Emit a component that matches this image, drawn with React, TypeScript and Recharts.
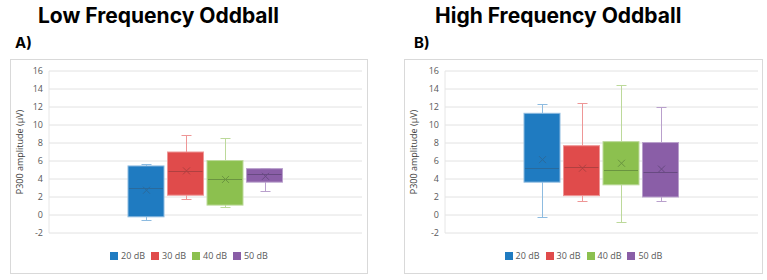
import React from 'react';
import { ComposedChart, Bar, XAxis, YAxis, CartesianGrid, Legend } from 'recharts';

// Series (one box per stimulus level)
const groups = ['20 dB', '30 dB', '40 dB', '50 dB'];
const colors = ['#1f7bc1', '#e04b4b', '#8cc04f', '#8a5ea7'];
const whiskerColors = ['#8dbbe0', '#ee9696', '#bcd99a', '#b9a0cc'];
const markColors = ['#2a6a9c', '#b04040', '#6a9440', '#684a82'];
const yTicks = [-2, 0, 2, 4, 6, 8, 10, 12, 14, 16];

// Low frequency oddball
const lowMin = [-0.55, 1.8, 0.85, 2.7];
const lowQ1 = [-0.2, 2.2, 1.1, 3.65];
const lowMedian = [2.95, 4.9, 3.95, 4.55];
const lowQ3 = [5.45, 7.0, 6.05, 5.15];
const lowMax = [5.7, 8.9, 8.6, 5.2];
const lowMean = [2.75, 4.9, 3.95, 4.3];

// High frequency oddball
const highMin = [-0.2, 1.6, -0.8, 1.55];
const highQ1 = [3.65, 2.15, 3.35, 2.0];
const highMedian = [5.2, 5.3, 5.05, 4.8];
const highQ3 = [11.3, 7.7, 8.15, 8.05];
const highMax = [12.3, 12.4, 14.4, 11.95];
const highMean = [6.15, 5.2, 5.75, 5.1];

type Stats = {
  min: number[];
  q1: number[];
  median: number[];
  q3: number[];
  max: number[];
  mean: number[];
};

const lowStats: Stats = { min: lowMin, q1: lowQ1, median: lowMedian, q3: lowQ3, max: lowMax, mean: lowMean };
const highStats: Stats = { min: highMin, q1: highQ1, median: highMedian, q3: highQ3, max: highMax, mean: highMean };

const font = '"Open Sans", sans-serif';

// one category row, each series holds its [q1, q3] range
const toRows = (s: Stats) => {
  const row: Record<string, any> = { name: 'all' };
  groups.forEach((g, i) => {
    row[g] = [s.q1[i], s.q3[i]];
  });
  return [row];
};

// draws whiskers, box, median and mean on top of the range bar rect
const makeBoxShape = (s: Stats, i: number) => (props: any) => {
  const { x, y, width, height } = props;
  const top = Math.min(y, y + height);
  const h = Math.abs(height);
  const k = h / (s.q3[i] - s.q1[i]);
  const py = (v: number) => top + (s.q3[i] - v) * k;
  const cx = Math.round(x + width / 2) + 0.5;
  const cap = 5;
  const yMax = Math.round(py(s.max[i])) + 0.5;
  const yMin = Math.round(py(s.min[i])) + 0.5;
  const yMed = Math.round(py(s.median[i])) + 0.5;
  const my = py(s.mean[i]);
  const m = 3.5;
  return (
    <g>
      <line x1={cx} x2={cx} y1={yMax} y2={top} stroke={whiskerColors[i]} strokeWidth={1} />
      <line x1={cx} x2={cx} y1={top + h} y2={yMin} stroke={whiskerColors[i]} strokeWidth={1} />
      <line x1={cx - cap} x2={cx + cap} y1={yMax} y2={yMax} stroke={whiskerColors[i]} strokeWidth={1} />
      <line x1={cx - cap} x2={cx + cap} y1={yMin} y2={yMin} stroke={whiskerColors[i]} strokeWidth={1} />
      <rect x={x} y={top} width={width} height={h} fill={colors[i]} stroke={whiskerColors[i]} strokeWidth={1} />
      <line x1={x + 1} x2={x + width - 1} y1={yMed} y2={yMed} stroke={markColors[i]} strokeWidth={1} />
      <path
        d={`M${cx - m},${my - m}L${cx + m},${my + m}M${cx - m},${my + m}L${cx + m},${my - m}`}
        stroke={markColors[i]}
        strokeWidth={1}
        fill="none"
      />
    </g>
  );
};

const renderLegend = (props: any) => (
  <div
    style={{
      display: 'flex',
      justifyContent: 'center',
      gap: 6,
      fontFamily: font,
      fontSize: 9,
      color: '#595959',
      lineHeight: '12px',
    }}
  >
    {(props.payload || []).map((entry: any) => (
      <span key={entry.value} style={{ display: 'flex', alignItems: 'center' }}>
        <span style={{ width: 8, height: 8, background: entry.color, marginRight: 3, display: 'inline-block' }} />
        {entry.value}
      </span>
    ))}
  </div>
);

type PanelProps = {
  stats: Stats;
  left: number;
  width: number;
  axisWidth: number;
  rightMargin: number;
};

const BoxPanel = ({ stats, left, width, axisWidth, rightMargin }: PanelProps) => {
  const height = 215;
  return (
    <>
      <div
        style={{
          position: 'absolute',
          left,
          top: 59,
          width,
          height,
          border: '1px solid #d9d9d9',
          boxSizing: 'border-box',
        }}
      />
      <div style={{ position: 'absolute', left, top: 59 }}>
        <ComposedChart
          width={width}
          height={height}
          data={toRows(stats)}
          margin={{ top: 12, right: rightMargin, bottom: 41, left: 0 }}
          barSize={36}
          barGap={3.5}
        >
          <CartesianGrid vertical={false} stroke="#e2e2e2" />
          <XAxis dataKey="name" type="category" hide />
          <YAxis
            width={axisWidth}
            domain={[-2, 16]}
            ticks={yTicks}
            interval={0}
            tickLine={false}
            tickSize={0}
            tickMargin={6}
            axisLine={{ stroke: '#e6e6e6' }}
            tick={{ fill: '#595959', fontSize: 9, fontFamily: font }}
            label={{
              value: 'P300 amplitude (µV)',
              angle: -90,
              position: 'insideLeft',
              offset: 10,
              style: { textAnchor: 'middle', fill: '#404040', fontSize: 9, fontFamily: font },
            }}
          />
          <Legend
            layout="horizontal"
            verticalAlign="middle"
            align="center"
            content={renderLegend}
            wrapperStyle={{ top: 191, left: 0, width }}
          />
          {groups.map((g, i) => (
            <Bar
              key={g}
              dataKey={g}
              name={g}
              fill={colors[i]}
              shape={makeBoxShape(stats, i)}
              isAnimationActive={false}
            />
          ))}
        </ComposedChart>
      </div>
    </>
  );
};

const titleStyle: React.CSSProperties = {
  fontFamily: 'Inter, sans-serif',
  fontWeight: 700,
};

export default function App() {
  return (
    <div style={{ position: 'absolute', left: 0, top: 0, width: 767, height: 280, background: '#fff', overflow: 'hidden' }}>
      <svg width={767} height={60} style={{ position: 'absolute', left: 0, top: 0 }}>
        <text x={38} y={23} fontSize={21} style={titleStyle} fill="#000">
          Low Frequency Oddball
        </text>
        <text x={15} y={48} fontSize={15} style={titleStyle} fill="#000">
          A)
        </text>
        <text x={435} y={23} fontSize={21} style={titleStyle} fill="#000">
          High Frequency Oddball
        </text>
        <text x={414} y={48} fontSize={15} style={titleStyle} fill="#000">
          B)
        </text>
      </svg>
      <BoxPanel stats={lowStats} left={10} width={358} axisWidth={39} rightMargin={6} />
      <BoxPanel stats={highStats} left={404} width={359} axisWidth={41} rightMargin={5} />
    </div>
  );
}
